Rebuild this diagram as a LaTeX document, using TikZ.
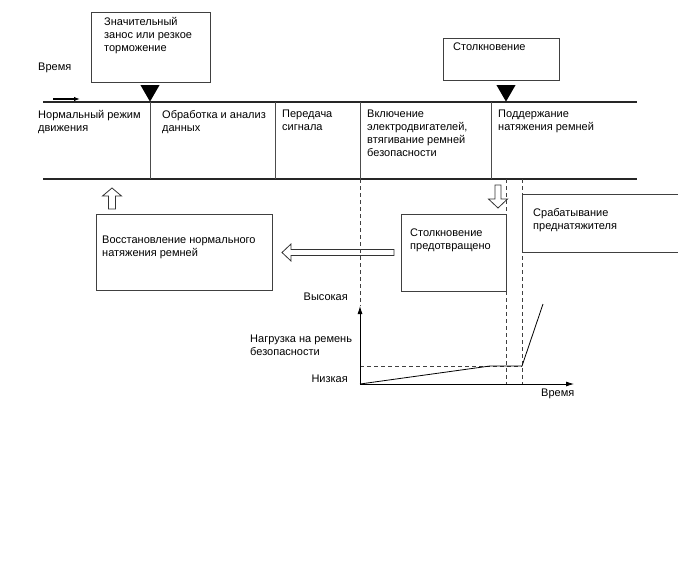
\documentclass[tikz,border=0pt]{standalone}
\usepackage{fontspec}
\setmainfont{Liberation Sans}
\usetikzlibrary{positioning, arrows.meta, shapes.geometric}

\begin{document}
\begin{tikzpicture}[
    x=1pt, y=-1pt,
    every node/.style={font=\fontsize{11}{13}\selectfont, inner sep=0pt},
    box/.style={draw=black!75, line width=1pt, anchor=north west},
    txt/.style={anchor=north west, align=left},
    band/.style={line width=1.4pt, black!85},
    divider/.style={line width=0.8pt, black!70},
    guide/.style={line width=0.8pt, black!75, dash pattern=on 4pt off 3pt},
    marker/.style={fill=black, regular polygon, regular polygon sides=3,
                   shape border rotate=180, minimum size=22pt, anchor=corner 1},
    hollow/.style={draw=black!80, line width=0.8pt, fill=white},
    >={Latex[length=8pt,width=5pt]},
  ]
  \useasboundingbox (0,0) rectangle (688,560);

  % time band
  \coordinate (bandTL) at (43,102);
  \coordinate (bandTR) at (637,102);
  \coordinate (bandBL) at (43,179);
  \coordinate (bandBR) at (637,179);
  \draw[band] (bandTL) -- (bandTR);
  \draw[band] (bandBL) -- (bandBR);
  \foreach \x in {150,275,360,491}
    \draw[divider] (\x,102) -- (\x,179);

  \node[txt] (timeLbl) at (38,62.5) {Время};
  \coordinate (flowA) at (53,99);
  \coordinate (flowB) at (80,99);
  \draw[-{Latex[length=6pt,width=4.5pt]}, line width=1.8pt] (flowA) -- (flowB);

  \node[txt] (phase1) at (38,110)  {Нормальный режим\\движения};
  \node[txt] (phase2) at (162,110) {Обработка и анализ\\данных};
  \node[txt] (phase3) at (282,110) {Передача\\сигнала};
  \node[txt] (phase4) at (367,110) {Включение\\электродвигателей,\\втягивание ремней\\безопасности};
  \node[txt] (phase5) at (498,110) {Поддержание\\натяжения ремней};

  % events
  \node[box, minimum width=119, minimum height=70] (skid) at (91,12) {};
  \node[txt, below right=5.5pt and 13pt of skid.north west] (skidTxt)
    {Значительный\\занос или резкое\\торможение};
  \node[marker] (skidMark) at (150,102) {};

  \node[box, minimum width=116, minimum height=42] (crash) at (443,38) {};
  \node[txt, below right=4.5pt and 10pt of crash.north west] (crashTxt) {Столкновение};
  \node[marker] (crashMark) at (506,102) {};

  % outcomes
  \node[box, minimum width=176, minimum height=76] (restore) at (96,214) {};
  \node[txt, below right=21.5pt and 6pt of restore.north west] (restoreTxt)
    {Восстановление нормального\\натяжения ремней};

  \node[box, minimum width=105, minimum height=77] (avert) at (401,214) {};
  \node[txt, below right=14.5pt and 9pt of avert.north west] (avertTxt)
    {Столкновение\\предотвращено};

  \coordinate (preten) at (522,194);
  \draw[draw=black!75, line width=1pt] (678,194) -| (522,252) -- (678,252);
  \node[txt, below right=14.5pt and 11pt of preten] (pretenTxt)
    {Срабатывание\\преднатяжителя};

  % hollow arrows
  \coordinate (upTip) at (112,188);
  \draw[hollow] (upTip) -- ++(9.5,8) -- ++(-6,0) -- ++(0,13) -- ++(-7,0)
    -- ++(0,-13) -- ++(-6,0) -- cycle;
  \coordinate (downTip) at (498,208);
  \draw[hollow] (downTip) -- ++(9.5,-9) -- ++(-6.5,0) -- ++(0,-14) -- ++(-6,0)
    -- ++(0,14) -- ++(-6.5,0) -- cycle;
  \coordinate (backTip) at ([xshift=9pt]restore.east);
  \draw[hollow] (backTip) -- ++(9,-8.5) -- ++(0,5.5) -- ++(103,0) -- ++(0,6)
    -- ++(-103,0) -- ++(0,5.5) -- cycle;

  % load graph
  \coordinate (origin) at (360,384);
  \coordinate (yTop) at (360,306);
  \coordinate (xEnd) at (574,384);
  \draw[guide] (360,179) -- (yTop);
  \draw[guide] (506,179) -- (506,384);
  \draw[guide] (522,179) -- (522,384);
  \draw[guide] (360,366) -- (522,366);
  \draw[->, line width=0.8pt] (origin) -- (yTop);
  \draw[->, line width=0.8pt] (origin) -- (xEnd);
  \draw[line width=0.8pt] (origin) -- (490,366) -- (522,366) -- (543,304);

  \node[anchor=north east] (high) at (348,292.5) {Высокая};
  \node[txt] (loadLbl) at (250,335) {Нагрузка на ремень\\безопасности};
  \node[anchor=north east] (low) at (348,374.5) {Низкая};
  \node[txt] (timeAxis) at (541,388.5) {Время};
\end{tikzpicture}
\end{document}
